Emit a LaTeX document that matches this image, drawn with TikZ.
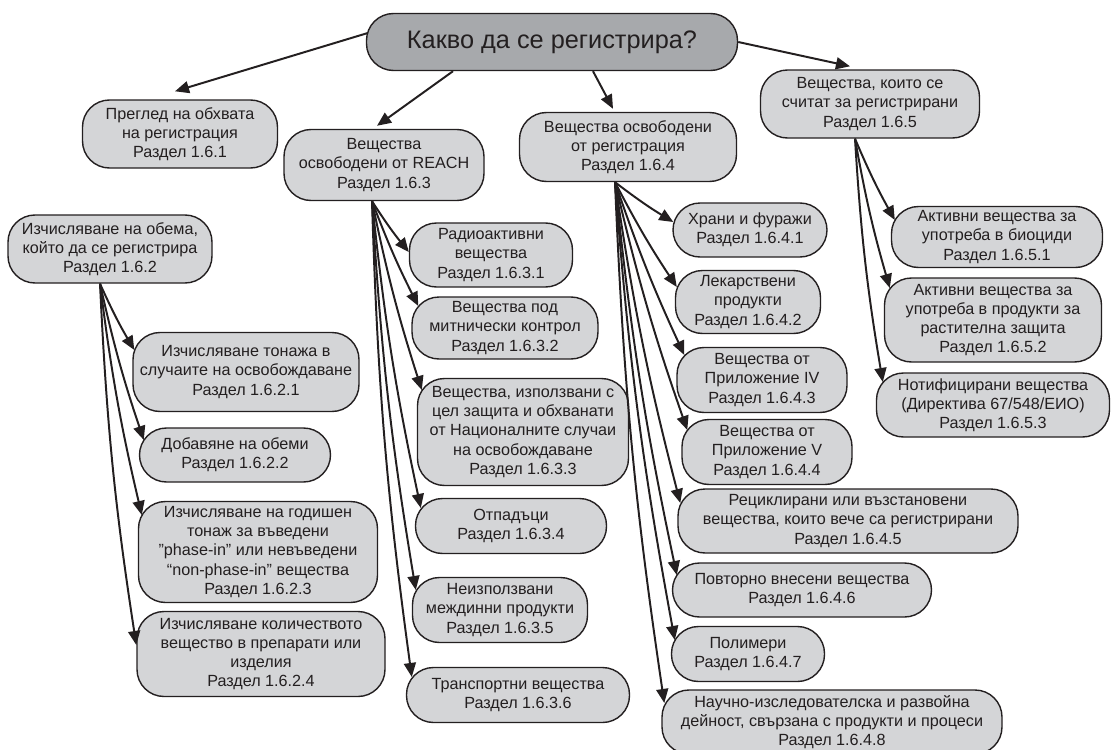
\documentclass[tikz,border=0pt]{standalone}
\usepackage{fontspec}
\setmainfont{Liberation Sans}
\usetikzlibrary{arrows.meta,calc}
\definecolor{boxfill}{HTML}{D4D5D7}
\definecolor{rootfill}{HTML}{A7A9AC}
\definecolor{ink}{HTML}{231F20}
\tikzset{
  box/.style={draw=ink, line width=1pt, fill=boxfill, rounded corners=0.675cm,
    align=center, inner sep=2pt, text=ink, font=\fontsize{11.5}{13.6}\selectfont},
  sz/.style 2 args={minimum width=#1*0.025cm, minimum height=#2*0.025cm},
  rootbox/.style={box, fill=rootfill, font=\fontsize{18}{22}\selectfont},
  arr/.style={draw=ink, line width=1.4pt, -{Triangle[length=10pt,width=8.5pt]}},
  fan/.style={arr},
}
\begin{document}
\begin{tikzpicture}[x=0.025cm,y=-0.025cm]
\useasboundingbox (0,0) rectangle (1112,750);

% top level
\node[rootbox, sz={371}{57}] (root) at (552,42) {Какво да се регистрира?};
\node[box, sz={195}{68}] (n161) at (180,134) {Преглед на обхвата\\на регистрация\\Раздел 1.6.1};
\node[box, sz={204}{68}] (n162) at (110,249) {Изчисляване на обема,\\който да се регистрира\\Раздел 1.6.2};
\node[box, sz={200}{71}] (n163) at (384,165) {Вещества\\освободени от REACH\\Раздел 1.6.3};
\node[box, sz={217}{69}] (n164) at (628,147) {Вещества освободени\\от регистрация\\Раздел 1.6.4};
\node[box, sz={219}{68}] (n165) at (870,104) {Вещества, които се\\считат за регистрирани\\Раздел 1.6.5};

% section 1.6.2
\node[box, sz={226}{79}] (n1621) at (246,372) {Изчисляване тонажа в\\случаите на освобождаване\\Раздел 1.6.2.1};
\node[box, sz={191}{54}] (n1622) at (235,455) {Добавяне на обеми\\Раздел 1.6.2.2};
\node[box, sz={239}{101}] (n1623) at (258,552) {Изчисляване на годишен\\тонаж за въведени\\”phase-in” или невъведени\\“non-phase-in” вещества\\Раздел 1.6.2.3};
\node[box, sz={248}{85}] (n1624) at (261,654) {Изчисляване количеството\\вещество в препарати или\\изделия\\Раздел 1.6.2.4};

% section 1.6.3
\node[box, sz={163}{64}] (n1631) at (491,255) {Радиоактивни\\вещества\\Раздел 1.6.3.1};
\node[box, sz={186}{62}] (n1632) at (505,328) {Вещества под\\митнически контрол\\Раздел 1.6.3.2};
\node[box, sz={211}{107}] (n1633) at (523,432) {Вещества, използвани с\\цел защита и обхванати\\от Националните случаи\\на освобождаване\\Раздел 1.6.3.3};
\node[box, sz={191}{55}] (n1634) at (511,526) {Отпадъци\\Раздел 1.6.3.4};
\node[box, sz={175}{65}] (n1635) at (500,610) {Неизползвани\\междинни продукти\\Раздел 1.6.3.5};
\node[box, sz={223}{55}] (n1636) at (518,695) {Транспортни вещества\\Раздел 1.6.3.6};

% section 1.6.4
\node[box, sz={154}{54}] (n1641) at (750,230) {Храни и фуражи\\Раздел 1.6.4.1};
\node[box, sz={145}{63}] (n1642) at (748,302) {Лекарствени\\продукти\\Раздел 1.6.4.2};
\node[box, sz={170}{65}] (n1643) at (762,380) {Вещества от\\Приложение IV\\Раздел 1.6.4.3};
\node[box, sz={170}{65}] (n1644) at (767,452) {Вещества от\\Приложение V\\Раздел 1.6.4.4};
\node[box, sz={340}{64}] (n1645) at (848,521) {Рециклирани или възстановени\\вещества, които вече са регистрирани\\Раздел 1.6.4.5};
\node[box, sz={259}{54}] (n1646) at (802,590) {Повторно внесени вещества\\Раздел 1.6.4.6};
\node[box, sz={153}{55}] (n1647) at (748,654) {Полимери\\Раздел 1.6.4.7};
\node[box, sz={340}{64}] (n1648) at (832,722) {Научно-изследователска и развойна\\дейност, свързана с продукти и процеси\\Раздел 1.6.4.8};

% section 1.6.5
\node[box, sz={211}{61}] (n1651) at (997,237) {Активни вещества за\\употреба в биоциди\\Раздел 1.6.5.1};
\node[box, sz={217}{84}] (n1652) at (993,320) {Активни вещества за\\употреба в продукти за\\растителна защита\\Раздел 1.6.5.2};
\node[box, sz={233}{64}] (n1653) at (993,405) {Нотифицирани вещества\\(Директива 67/548/ЕИО)\\Раздел 1.6.5.3};

% arrows from the question
\draw[arr] ($(root.west)+(2,-9)$) -- ($(n161.north)+(-5,-8)$);
\draw[arr] ($(root.south)+(-99,0)$) -- ($(n163.north)+(-7,-3)$);
\draw[arr] ($(root.south)+(41,0)$) -- ($(n164.north)+(-15,-3)$);
\draw[arr] (root.east) -- ($(n165.north)+(-20,-3)$);

% fan origins under each section box
\coordinate (f162) at ($(n162.south)+(-10,0)$);
\coordinate (f163) at ($(n163.south)+(-12,0)$);
\coordinate (f164) at ($(n164.south)+(-13,0)$);
\coordinate (f165) at ($(n165.south)+(-15,0)$);

\draw[fan] (f162) to[bend right=3] ($(n1621.west)+(2,-22)$);
\draw[fan] (f162) to[bend right=3] ($(n1622.west)+(5,-15)$);
\draw[fan] (f162) to[bend right=3] ($(n1623.west)+(4,-37)$);
\draw[fan] (f162) to[bend right=3] ($(n1624.west)+(0,-9)$);

\draw[fan] (f163) to[bend right=3] ($(n1631.west)+(0,-3)$);
\draw[fan] (f163) to[bend right=3] ($(n1632.west)+(7,-22)$);
\draw[fan] (f163) to[bend right=3] ($(n1633.west)+(5,-42)$);
\draw[fan] (f163) to[bend right=3] ($(n1634.west)+(6,-18)$);
\draw[fan] (f163) to[bend right=3] ($(n1635.west)+(4,-20)$);
\draw[fan] (f163) to[bend right=3] ($(n1636.west)+(6,-18)$);

\draw[fan] (f164) to[bend right=3] ($(n1641.west)+(1,-8)$);
\draw[fan] (f164) to[bend right=3] ($(n1642.west)+(2,-15)$);
\draw[fan] (f164) to[bend right=3] ($(n1643.west)+(8,-25)$);
\draw[fan] (f164) to[bend right=3] ($(n1644.west)+(6,-22)$);
\draw[fan] (f164) to[bend right=3] ($(n1645.west)+(3,-18)$);
\draw[fan] (f164) to[bend right=3] ($(n1646.west)+(5,-15)$);
\draw[fan] (f164) to[bend right=3] ($(n1647.west)+(4,-14)$);
\draw[fan] (f164) to[bend right=3] ($(n1648.west)+(3,-19)$);

\draw[fan] (f165) to[bend right=3] ($(n1651.west)+(4,-17)$);
\draw[fan] (f165) to[bend right=3] ($(n1652.west)+(6,-32)$);
\draw[fan] (f165) to[bend right=3] ($(n1653.west)+(7,-23)$);
\end{tikzpicture}
\end{document}
